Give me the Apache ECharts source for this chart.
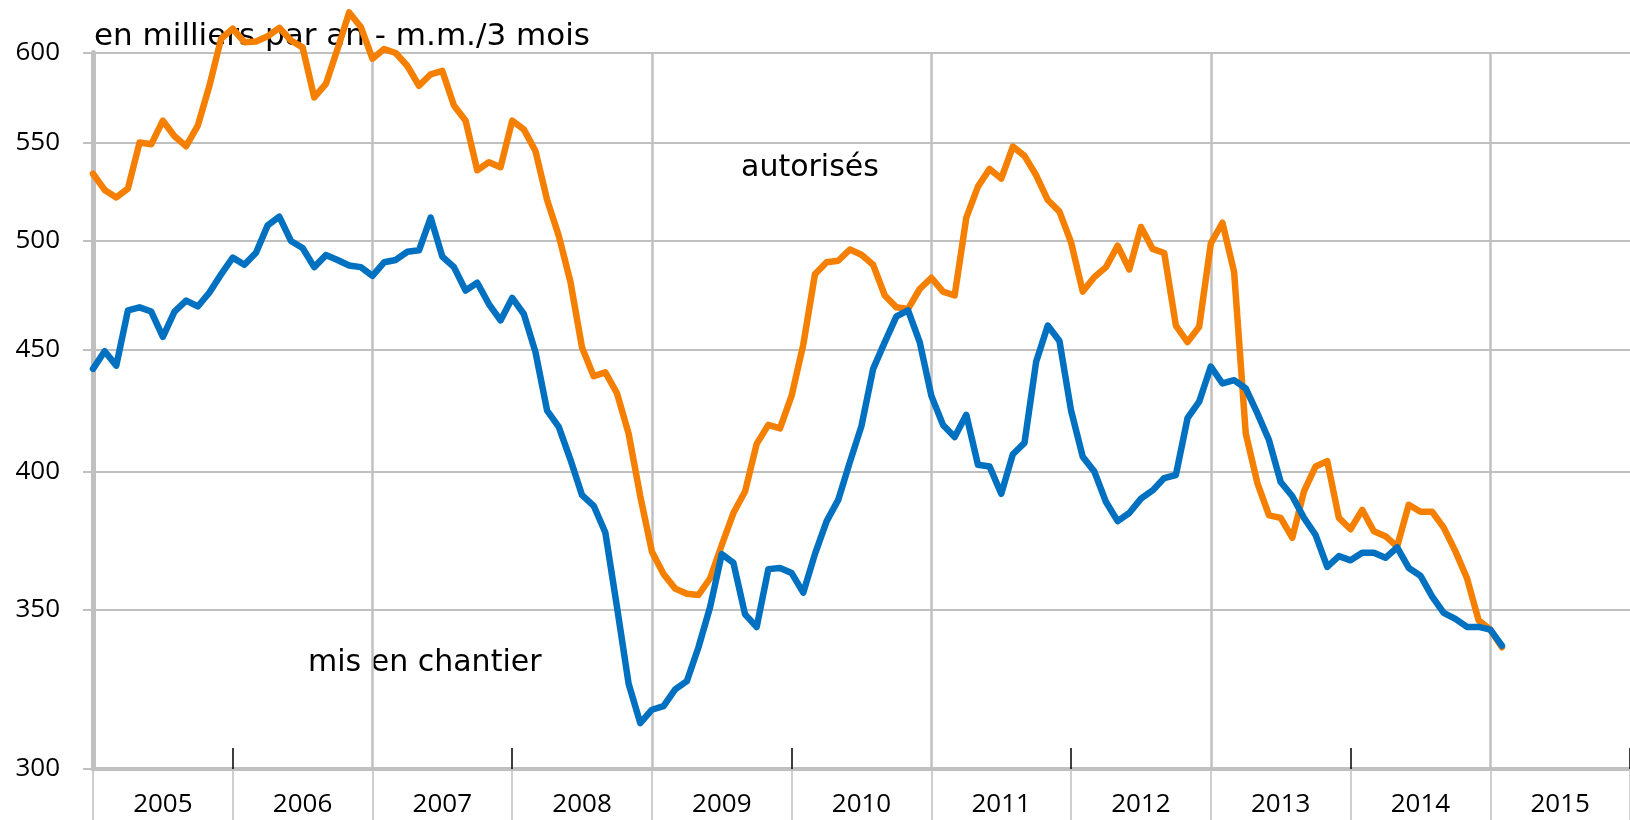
<!DOCTYPE html>
<html>
<head>
<meta charset="utf-8">
<title>Logements autorisés et mis en chantier</title>
<script src="https://cdn.jsdelivr.net/npm/echarts@6/dist/echarts.min.js"></script>
<style>
html, body { margin: 0; padding: 0; background: #fff; }
#chart { width: 1630px; height: 820px; }
</style>
</head>
<body>
<div id="chart"></div>
<script>
// années de l'axe : une catégorie par mois, de janv. 2005 à janv. 2016
var years = [2005, 2006, 2007, 2008, 2009, 2010, 2011, 2012, 2013, 2014, 2015];
var yTicks = [300, 350, 400, 450, 500, 550, 600];

// en milliers par an - m.m./3 mois, de janv. 2005 à févr. 2015
var autorises = [
	533.6, 525.3, 521.5, 526, 550, 549, 561.7, 553.3, 548, 559, 581, 608,
	614, 606, 606.4, 609.5, 614.5, 607, 603, 574.5, 582, 602, 623.7, 615,
	596.4, 602, 599.7, 592.2, 581, 587.5, 589.4, 570, 561.7, 535.4, 539.6, 537,
	561.7, 557, 545.5, 520.2, 502.5, 480.7, 451, 438.7, 440.3, 431.5, 415, 390.6,
	370.2, 362.3, 357.2, 355.4, 355, 360.8, 372.6, 384.3, 392.4, 410.9, 418.5, 417.1,
	430.5, 452.3, 484.1, 489.8, 490.5, 495.9, 493.4, 488.6, 474.3, 468.9, 468.2, 477.3,
	482.5, 476.1, 474.3, 511.4, 527, 536.1, 531.1, 547.8, 542.9, 532.8, 520.2, 514.4,
	499.3, 476.1, 482.9, 487.5, 497.7, 486.4, 506.8, 496.2, 494.2, 460.7, 453.4, 460.2,
	498.8, 508.9, 485.2, 415, 395.6, 383.4, 382.5, 375.2, 392.4, 402, 404.1, 382.5,
	378.3, 385.5, 377.6, 375.8, 372, 387.4, 384.8, 384.8, 378.9, 370.4, 360.8, 346.4,
	343.3, 337.5
];
var misEnChantier = [
	441.8, 449.4, 443.2, 467.5, 468.9, 467, 455.7, 467, 472, 469.3, 475.7, 484.1,
	492, 488.6, 494.3, 507.6, 511.9, 500, 496.6, 487.5, 493.2, 490.9, 488.3, 487.5,
	483.4, 489.8, 490.9, 494.8, 495.5, 511.4, 492.5, 487.5, 476.6, 480.2, 470.4, 463,
	473.2, 465.9, 449, 424.3, 417.7, 404.7, 391, 387, 377.1, 350.9, 325.8, 313.6,
	317.7, 318.8, 324, 326.6, 337.5, 350.9, 369.3, 366.2, 348.4, 344.2, 364, 364.4,
	362.6, 355.8, 369.3, 381.2, 389.2, 403.7, 418.1, 441.8, 453.4, 464.8, 467.5, 453.4,
	430.4, 418.5, 413.6, 422.6, 402.7, 402, 391.5, 406.8, 411.3, 444.9, 460.7, 453.9,
	424.3, 405.8, 400, 388.4, 381.3, 384.3, 389.7, 392.8, 397.5, 398.7, 421.2, 428,
	442.8, 435.6, 437, 433.5, 423.2, 412.3, 396, 390.6, 382.5, 376.2, 364.8, 368.6,
	367.1, 369.8, 369.8, 368, 371.7, 364.4, 361.7, 354.5, 348.9, 346.9, 344.2, 344.2,
	343.3, 338
];

var months = [];
years.forEach(function (y) {
	for (var m = 1; m <= 12; m++) {
		months.push(y + '-' + (m < 10 ? '0' + m : m));
	}
});
months.push((years[years.length - 1] + 1) + '-01');

var grey = '#c0c0c0';
var labelFont = { fontFamily: 'Open Sans', fontSize: 26, color: '#000' };
var textFont = '30px "DejaVu Sans"';

var option = {
	animation: false,
	grid: { left: 93, right: -15, top: 52.5, bottom: 51 },
	xAxis: [{
		type: 'category',
		data: months,
		boundaryGap: false,
		axisLine: { onZero: false, lineStyle: { color: grey, width: 4 } },
		axisTick: {
			interval: function (i) { return i % 12 === 0; },
			length: 51,
			lineStyle: { color: grey, width: 1.5 }
		},
		axisLabel: Object.assign({
			interval: function (i) { return i % 12 === 6; },
			formatter: function (v) { return v.slice(0, 4); },
			margin: 23
		}, labelFont),
		splitLine: {
			show: true,
			interval: function (i) { return i > 0 && i % 24 === 0; },
			lineStyle: { color: grey, width: 2.5 }
		}
	}, {
		// petits traits noirs vers l'intérieur, une année sur deux
		type: 'category',
		data: months,
		boundaryGap: false,
		position: 'bottom',
		axisLine: { show: false },
		axisTick: {
			inside: true,
			interval: function (i) { return i % 24 === 12; },
			length: 21,
			lineStyle: { color: '#000', width: 1.5 }
		},
		axisLabel: { show: false },
		splitLine: { show: false }
	}],
	yAxis: {
		type: 'log',
		min: 300,
		max: 600,
		axisLine: { show: true, lineStyle: { color: grey, width: 5 } },
		axisTick: { show: true, customValues: yTicks, length: 10, lineStyle: { color: grey, width: 2 } },
		axisLabel: Object.assign({ customValues: yTicks, margin: 33 }, labelFont),
		splitLine: { show: true, lineStyle: { color: grey, width: 2 } }
	},
	graphic: [
		{ type: 'text', x: 94, y: 37, style: { text: 'en milliers par an - m.m./3 mois', font: '31px "DejaVu Sans"', fill: '#000', verticalAlign: 'middle' } },
		{ type: 'text', x: 741, y: 168, style: { text: 'autorisés', font: textFont, fill: '#000', verticalAlign: 'middle' } },
		{ type: 'text', x: 308, y: 663, style: { text: 'mis en chantier', font: textFont, fill: '#000', verticalAlign: 'middle' } }
	],
	series: [{
		name: 'autorisés',
		type: 'line',
		data: autorises,
		showSymbol: false,
		clip: false,
		lineStyle: { color: '#f57f00', width: 6.5, join: 'round', cap: 'round' },
		itemStyle: { color: '#f57f00' }
	}, {
		name: 'mis en chantier',
		type: 'line',
		data: misEnChantier,
		showSymbol: false,
		clip: false,
		lineStyle: { color: '#0070c0', width: 6.5, join: 'round', cap: 'round' },
		itemStyle: { color: '#0070c0' }
	}]
};

var chart = echarts.init(document.getElementById('chart'));
chart.setOption(option);
</script>
</body>
</html>
